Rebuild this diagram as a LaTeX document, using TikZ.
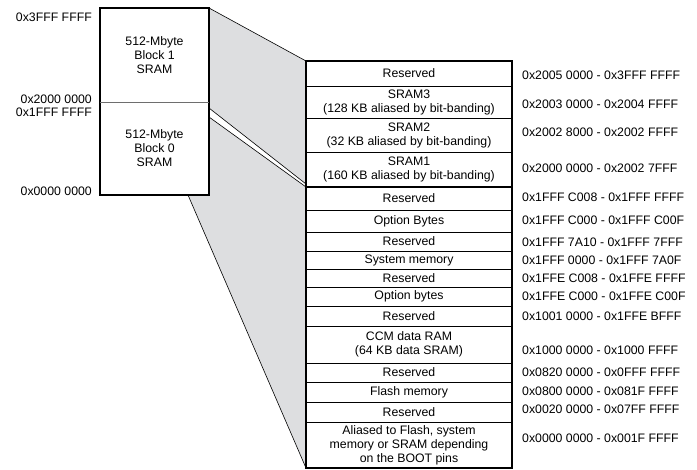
\documentclass[tikz,border=0pt]{standalone}
\usepackage{fontspec}
\setmainfont{Liberation Sans}
\usetikzlibrary{positioning,backgrounds}
\definecolor{funnelgray}{RGB}{221,222,224}
\definecolor{divgray}{RGB}{110,110,110}

\begin{document}
\begin{tikzpicture}[x=1pt, y=-1pt,
    font=\fontsize{12.3}{14}\selectfont,
    blk/.style={rectangle, minimum width=109pt, inner sep=0pt, outer sep=0pt, align=center},
    row/.style={rectangle, draw, line width=0.7pt, minimum width=206pt, inner sep=0pt, outer sep=0pt, align=center},
    addr/.style={anchor=west, inner sep=0pt},
    addrl/.style={anchor=east, inner sep=0pt},
    funnel/.style={draw=black, line width=0.6pt}
]
\useasboundingbox (0,0) rectangle (697,470);

% Address space blocks
\node[blk, minimum height=94pt] (blk1) at (154.5,55) {512-Mbyte\\Block 1\\SRAM};
\node[blk, minimum height=93pt] (blk0) at (154.5,148.5) {512-Mbyte\\Block 0\\SRAM};

\node[addrl] (a3fff) at (92,17) {0x3FFF FFFF};
\node[addrl] (a2000) at (92,99) {0x2000 0000};
\node[addrl] (a1fff) at (92,112) {0x1FFF FFFF};
\node[addrl] (a0000) at (92,191) {0x0000 0000};

% Memory map rows
\node[row, minimum height=25pt] (r1) at (409,73.5) {Reserved};
\node[row, minimum height=32pt] (r2) at (409,102) {SRAM3\\(128 KB aliased by bit-banding)};
\node[row, minimum height=34pt] (r3) at (409,135) {SRAM2\\(32 KB aliased by bit-banding)};
\node[row, minimum height=35pt] (r4) at (409,169.5) {SRAM1\\(160 KB aliased by bit-banding)};
\node[row, minimum height=23pt] (r5) at (409,198.5) {Reserved};
\node[row, minimum height=22pt] (r6) at (409,221) {Option Bytes};
\node[row, minimum height=19pt] (r7) at (409,241.5) {Reserved};
\node[row, minimum height=18pt] (r8) at (409,260) {System memory};
\node[row, minimum height=18pt] (r9) at (409,278) {Reserved};
\node[row, minimum height=19pt] (r10) at (409,296.5) {Option bytes};
\node[row, minimum height=20pt] (r11) at (409,316) {Reserved};
\node[row, minimum height=37pt] (r12) at (409,344.5) {CCM data RAM\\(64 KB data SRAM)};
\node[row, minimum height=19pt] (r13) at (409,372.5) {Reserved};
\node[row, minimum height=20pt] (r14) at (409,392) {Flash memory};
\node[row, minimum height=20pt] (r15) at (409,412) {Reserved};
\node[row, minimum height=46pt] (r16) at (409,445) {Aliased to Flash, system\\memory or SRAM depending\\on the BOOT pins};

% Address ranges
\node[addr] (g1) at (522,75) {0x2005 0000 - 0x3FFF FFFF};
\node[addr] (g2) at (522,104) {0x2003 0000 - 0x2004 FFFF};
\node[addr] (g3) at (522,132) {0x2002 8000 - 0x2002 FFFF};
\node[addr] (g4) at (522,168) {0x2000 0000 - 0x2002 7FFF};
\node[addr] (g5) at (522,197) {0x1FFF C008 - 0x1FFF FFFF};
\node[addr] (g6) at (522,220) {0x1FFF C000 - 0x1FFF C00F};
\node[addr] (g7) at (522,242) {0x1FFF 7A10 - 0x1FFF 7FFF};
\node[addr] (g8) at (522,260) {0x1FFF 0000 - 0x1FFF 7A0F};
\node[addr] (g9) at (522,278) {0x1FFE C008 - 0x1FFE FFFF};
\node[addr] (g10) at (522,296) {0x1FFE C000 - 0x1FFE C00F};
\node[addr] (g11) at (522,316) {0x1001 0000 - 0x1FFE BFFF};
\node[addr] (g12) at (522,350) {0x1000 0000 - 0x1000 FFFF};
\node[addr] (g13) at (522,372) {0x0820 0000 - 0x0FFF FFFF};
\node[addr] (g14) at (522,391) {0x0800 0000 - 0x081F FFFF};
\node[addr] (g15) at (522,409) {0x0020 0000 - 0x07FF FFFF};
\node[addr] (g16) at (522,438) {0x0000 0000 - 0x001F FFFF};

% Funnel between the two maps
\coordinate (bandA1) at (209,108);
\coordinate (bandA2) at (306,184);
\coordinate (bandB1) at (209,117);
\coordinate (tail) at (188,195);
\begin{scope}[on background layer]
\fill[funnelgray] (blk1.north east) -- (r1.north west) -- (bandA2) -- (bandA1) -- cycle;
\fill[funnelgray] (bandB1) -- (r4.south west) -- (r16.south west) -- (tail) -- (blk0.south east) -- cycle;
\end{scope}
\draw[funnel] (blk1.north east) -- (r1.north west);
\draw[funnel] (bandA1) -- (bandA2);
\draw[funnel] (bandB1) -- (r4.south west);
\draw[funnel] (tail) -- (r16.south west);

% Frames
\draw[line width=1.6pt] (blk1.north west) rectangle (blk0.south east);
\draw[divgray, line width=0.8pt] (blk1.south west) -- (blk1.south east);
\draw[line width=1.6pt] (r1.north west) rectangle (r16.south east);
\draw[line width=1.6pt] (r4.south west) -- (r4.south east);
\end{tikzpicture}
\end{document}
